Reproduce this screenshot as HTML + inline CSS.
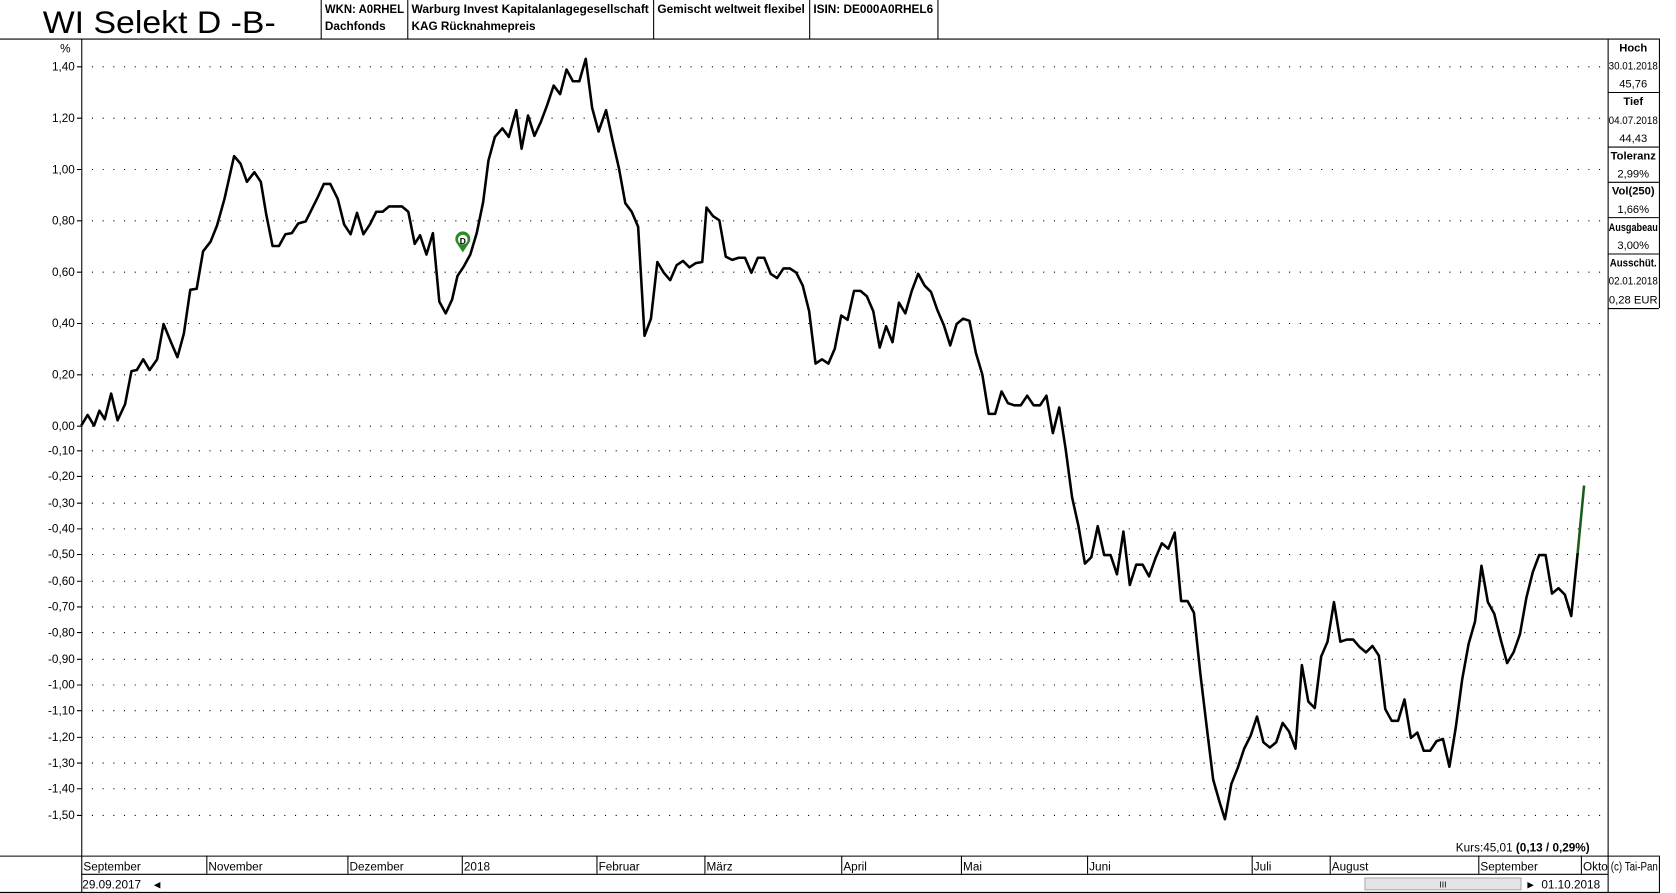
<!DOCTYPE html>
<html><head><meta charset="utf-8"><style>
html,body{margin:0;padding:0;background:#fff;overflow:hidden}
svg{display:block}
text{font-family:"Liberation Sans",sans-serif;fill:#000}
</style></head><body>
<svg width="1676" height="893" viewBox="0 0 1568 835" preserveAspectRatio="none" xmlns="http://www.w3.org/2000/svg">
<rect width="1568" height="835" fill="#fff"/>
<!-- header -->
<text x="40" y="31" font-size="29" textLength="218" lengthAdjust="spacingAndGlyphs">WI Selekt D -B-</text>
<g stroke="#000" stroke-width="1">
<line x1="0" y1="36.5" x2="1552" y2="36.5"/>
<line x1="300.5" y1="0" x2="300.5" y2="36"/>
<line x1="381.5" y1="0" x2="381.5" y2="36"/>
<line x1="611.5" y1="0" x2="611.5" y2="36"/>
<line x1="757.5" y1="0" x2="757.5" y2="36"/>
<line x1="877.5" y1="0" x2="877.5" y2="36"/>
</g>
<g font-size="11" font-weight="bold">
<text x="304" y="12" textLength="74" lengthAdjust="spacingAndGlyphs">WKN: A0RHEL</text><text x="304" y="28">Dachfonds</text>
<text x="385" y="12" textLength="222" lengthAdjust="spacingAndGlyphs">Warburg Invest Kapitalanlagegesellschaft</text><text x="385" y="28">KAG Rücknahmepreis</text>
<text x="615" y="12" textLength="138" lengthAdjust="spacingAndGlyphs">Gemischt weltweit flexibel</text>
<text x="761" y="12" textLength="112" lengthAdjust="spacingAndGlyphs">ISIN: DE000A0RHEL6</text>
</g>
<!-- right panel -->
<g stroke="#000" stroke-width="1">
<line x1="1504.5" y1="36" x2="1504.5" y2="835"/>
<line x1="1552.5" y1="36" x2="1552.5" y2="288"/>
<line x1="1504" y1="86.5" x2="1552" y2="86.5"/>
<line x1="1504" y1="137.5" x2="1552" y2="137.5"/>
<line x1="1504" y1="170.5" x2="1552" y2="170.5"/>
<line x1="1504" y1="203.5" x2="1552" y2="203.5"/>
<line x1="1504" y1="237.5" x2="1552" y2="237.5"/>
<line x1="1504" y1="288.5" x2="1552" y2="288.5"/>
</g>
<g font-size="10.5" text-anchor="middle">
<text x="1528" y="48" font-weight="bold">Hoch</text><text x="1528" y="65" textLength="46" lengthAdjust="spacingAndGlyphs">30.01.2018</text><text x="1528" y="82">45,76</text>
<text x="1528" y="98" font-weight="bold">Tief</text><text x="1528" y="116" textLength="46" lengthAdjust="spacingAndGlyphs">04.07.2018</text><text x="1528" y="133">44,43</text>
<text x="1528" y="149" font-weight="bold">Toleranz</text><text x="1528" y="166">2,99%</text>
<text x="1528" y="182" font-weight="bold">Vol(250)</text><text x="1528" y="199">1,66%</text>
<text x="1528" y="216" font-weight="bold" textLength="46" lengthAdjust="spacingAndGlyphs">Ausgabeau</text><text x="1528" y="233">3,00%</text>
<text x="1528" y="249" font-weight="bold" textLength="44" lengthAdjust="spacingAndGlyphs">Ausschüt.</text><text x="1528" y="266" textLength="46" lengthAdjust="spacingAndGlyphs">02.01.2018</text><text x="1528" y="284">0,28 EUR</text>
</g>
<!-- axes -->
<g stroke="#000" stroke-width="1">
<line x1="76.5" y1="36" x2="76.5" y2="835"/>
<line x1="0" y1="800.5" x2="1504" y2="800.5"/>
<line x1="76" y1="817.5" x2="1504" y2="817.5"/>
<line x1="0" y1="834.5" x2="1552" y2="834.5"/>
<line x1="1552.5" y1="800" x2="1552.5" y2="835"/>
<line x1="1504" y1="800.5" x2="1552" y2="800.5"/>
<line x1="193.5" y1="800" x2="193.5" y2="817"/>
<line x1="325.5" y1="800" x2="325.5" y2="817"/>
<line x1="432.5" y1="800" x2="432.5" y2="817"/>
<line x1="558.5" y1="800" x2="558.5" y2="817"/>
<line x1="659.5" y1="800" x2="659.5" y2="817"/>
<line x1="787.5" y1="800" x2="787.5" y2="817"/>
<line x1="899.5" y1="800" x2="899.5" y2="817"/>
<line x1="1017.5" y1="800" x2="1017.5" y2="817"/>
<line x1="1171.5" y1="800" x2="1171.5" y2="817"/>
<line x1="1244.5" y1="800" x2="1244.5" y2="817"/>
<line x1="1383.5" y1="800" x2="1383.5" y2="817"/>
<line x1="1479.5" y1="800" x2="1479.5" y2="817"/>
</g>
<g font-size="11">
<text x="78" y="814">September</text><text x="195" y="814">November</text><text x="327" y="814">Dezember</text>
<text x="434" y="814">2018</text><text x="560" y="814">Februar</text><text x="661" y="814">März</text>
<text x="789" y="814">April</text><text x="901" y="814">Mai</text><text x="1019" y="814">Juni</text>
<text x="1173" y="814">Juli</text><text x="1246" y="814">August</text><text x="1385" y="814">September</text>
<text x="1481" y="814">Okto</text><text x="1507" y="814" textLength="44" lengthAdjust="spacingAndGlyphs">(c) Tai-Pan</text>
<text x="77" y="831">29.09.2017</text>
<text x="1442" y="831">01.10.2018</text>
<text x="1362" y="796">Kurs:45,01 <tspan font-weight="bold">(0,13 / 0,29%)</tspan></text>
</g>
<text x="144" y="830" font-size="8" fill="#777">◀</text>
<rect x="1277" y="821" width="146" height="11" fill="#e4e4e4" stroke="#aaa"/>
<text x="1350" y="830" font-size="8" text-anchor="middle" fill="#666">III</text>
<text x="1429" y="830" font-size="8" fill="#777">▶</text>
<!-- y labels and dotted grid -->
<g font-size="11" text-anchor="end">
<text x="66" y="49">%</text>
<text x="70" y="66">1,40</text><text x="70" y="114">1,20</text><text x="70" y="162">1,00</text>
<text x="70" y="210">0,80</text><text x="70" y="258">0,60</text><text x="70" y="306">0,40</text>
<text x="70" y="354">0,20</text><text x="70" y="402">0,00</text>
<text x="70" y="425">-0,10</text><text x="70" y="449">-0,20</text><text x="70" y="474">-0,30</text>
<text x="70" y="498">-0,40</text><text x="70" y="522">-0,50</text><text x="70" y="547">-0,60</text>
<text x="70" y="571">-0,70</text><text x="70" y="595">-0,80</text><text x="70" y="620">-0,90</text>
<text x="70" y="644">-1,00</text><text x="70" y="668">-1,10</text><text x="70" y="693">-1,20</text>
<text x="70" y="717">-1,30</text><text x="70" y="741">-1,40</text><text x="70" y="766">-1,50</text>
</g>
<g stroke="#000" stroke-width="1" stroke-dasharray="1 9">
<path d="M86 62.5H1504M86 110.5H1504M86 158.5H1504M86 206.5H1504M86 254.5H1504M86 302.5H1504M86 350.5H1504M86 398.5H1504M86 421.5H1504M86 445.5H1504M86 470.5H1504M86 494.5H1504M86 518.5H1504M86 543.5H1504M86 567.5H1504M86 591.5H1504M86 616.5H1504M86 640.5H1504M86 664.5H1504M86 689.5H1504M86 713.5H1504M86 737.5H1504M86 762.5H1504"/>
</g>
<g stroke="#000" stroke-width="1">
<path d="M72 62.5H77M72 110.5H77M72 158.5H77M72 206.5H77M72 254.5H77M72 302.5H77M72 350.5H77M72 398.5H77M72 421.5H77M72 445.5H77M72 470.5H77M72 494.5H77M72 518.5H77M72 543.5H77M72 567.5H77M72 591.5H77M72 616.5H77M72 640.5H77M72 664.5H77M72 689.5H77M72 713.5H77M72 737.5H77M72 762.5H77"/>
</g>
<!-- series -->
<polyline fill="none" stroke="#000" stroke-width="2.4" stroke-linejoin="round" points="76,398 82,388 88,398 93,384 98,392 104,368 110,393 117,378 123,347 128,346 134,336 140,346 147,336 153,303 160,320 166,334 172,312 178,271 184,270 190,235 197,226 203,211 210,186 219,146 225,153 231,170 238,161 244,170 249,200 255,230 261,230 267,219 273,218 279,209 286,207 291,197 297,185 303,172 309,172 316,186 322,210 328,219 334,199 340,219 346,210 352,198 358,198 364,193 370,193 376,193 382,198 388,228 393,220 399,238 405,218 411,282 417,293 423,280 428,258 434,249 440,238 446,218 452,189 457,150 463,128 470,120 476,128 483,103 488,139 494,108 500,127 506,114 512,98 518,80 524,88 530,65 536,76 542,76 548,55 554,101 560,123 567,103 573,131 579,157 585,190 591,198 597,212 603,314 609,298 615,245 621,255 627,262 633,248 639,244 645,250 651,246 657,245 661,194 667,202 673,206 679,240 685,243 691,241 697,241 703,255 709,241 715,241 721,256 727,260 733,251 739,251 745,255 751,267 757,291 763,340 769,336 775,340 781,326 787,295 793,299 799,272 805,272 811,277 817,291 823,325 829,305 835,320 841,283 847,293 853,272 859,256 865,267 871,273 877,290 883,304 889,323 895,303 901,298 907,300 913,330 919,350 925,387 931,387 937,366 943,377 949,379 955,379 961,370 967,379 973,379 979,370 985,405 991,381 997,420 1003,465 1009,492 1015,527 1021,521 1027,492 1033,519 1039,519 1045,537 1051,497 1057,547 1063,528 1069,528 1075,539 1081,522 1087,508 1093,513 1099,498 1105,562 1111,562 1117,573 1123,630 1129,680 1135,729 1141,750 1146,766 1152,733 1158,718 1164,700 1170,688 1176,670 1182,694 1188,699 1194,694 1200,676 1206,684 1212,700 1218,622 1224,656 1230,662 1236,614 1242,600 1248,563 1254,600 1260,598 1266,598 1272,605 1278,610 1284,604 1290,613 1296,663 1302,674 1308,674 1314,654 1320,690 1326,685 1332,702 1338,702 1344,693 1350,691 1356,717 1362,680 1368,635 1374,602 1380,581 1386,529 1392,563 1398,574 1404,598 1410,620 1416,610 1422,593 1428,559 1434,535 1440,519 1446,519 1452,555 1458,550 1464,556 1470,576 1476,517"/>
<line x1="1476" y1="517" x2="1482" y2="454" stroke="#1a5c1a" stroke-width="2.4"/>
<!-- dividend marker -->
<path d="M433 236 L427 227 A7 7 0 1 1 439 227 Z" fill="#2a8a2a"/>
<circle cx="433" cy="224" r="4.5" fill="#fff"/>
<text x="433" y="228" font-size="8" font-weight="bold" text-anchor="middle" fill="#2a8a2a">D</text>
</svg>
</body></html>
